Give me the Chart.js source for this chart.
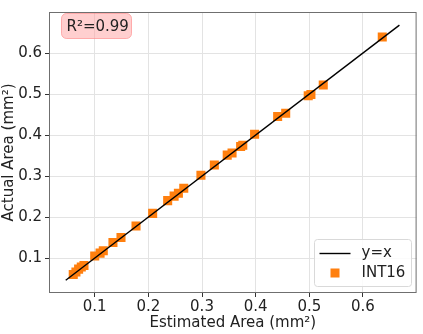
<!DOCTYPE html>
<html>
<head>
<meta charset="utf-8">
<script src="https://cdn.jsdelivr.net/npm/chart.js@4"></script>
<style>
  html, body { margin: 0; padding: 0; background: #fff; }
  #wrap { width: 423px; height: 334px; position: relative; }
</style>
</head>
<body>
<div id="wrap"><canvas id="areaChart"></canvas></div>
<script>
// estimated vs actual area (mm²)
const estimated = [0.060, 0.065, 0.070, 0.075, 0.080, 0.100, 0.110, 0.116, 0.134, 0.149,
                   0.177, 0.208, 0.236, 0.248, 0.256, 0.266, 0.298, 0.323, 0.347, 0.356,
                   0.372, 0.376, 0.398, 0.441, 0.456, 0.498, 0.503, 0.526, 0.636];
const actual    = [0.060, 0.066, 0.073, 0.078, 0.082, 0.105, 0.112, 0.118, 0.138, 0.150,
                   0.178, 0.209, 0.240, 0.251, 0.258, 0.270, 0.302, 0.327, 0.351, 0.356,
                   0.372, 0.375, 0.402, 0.445, 0.453, 0.496, 0.499, 0.522, 0.639];
const refLine = [0.046, 0.668];
const tickValues = [0.1, 0.2, 0.3, 0.4, 0.5, 0.6];
const r2Text = 'R²=0.99';

const font = 'DejaVu Sans';
const orange = '#ff7f0e';

// draws the axes frame, the R² box and the legend
const decorations = {
    id: 'decorations',
    afterDraw(chart) {
        const ctx = chart.ctx;
        const a = chart.chartArea;
        ctx.save();

        ctx.strokeStyle = '#6f6f6f';
        ctx.lineWidth = 1;
        ctx.strokeRect(a.left + 0.5, a.top + 0.5, a.right - a.left - 1, a.bottom - a.top - 1);

        // R² label box
        ctx.font = '15px "' + font + '"';
        const bx = 61.5, by = 13.5, bw = 70, bh = 25;
        ctx.beginPath();
        ctx.roundRect(bx, by, bw, bh, 5);
        ctx.fillStyle = 'rgba(255, 160, 160, 0.5)';
        ctx.fill();
        ctx.strokeStyle = 'rgba(255, 130, 130, 0.6)';
        ctx.stroke();
        ctx.fillStyle = '#222';
        ctx.textBaseline = 'middle';
        ctx.fillText(r2Text, bx + 5, by + bh / 2 + 1);

        // legend
        const lx = 314.5, ly = 239.5, lw = 97, lh = 47;
        ctx.beginPath();
        ctx.roundRect(lx, ly, lw, lh, 3);
        ctx.fillStyle = 'rgba(255,255,255,0.85)';
        ctx.fill();
        ctx.strokeStyle = '#d9d9d9';
        ctx.stroke();

        ctx.strokeStyle = '#000';
        ctx.lineWidth = 1.4;
        ctx.beginPath();
        ctx.moveTo(lx + 5, ly + 14);
        ctx.lineTo(lx + 36, ly + 14);
        ctx.stroke();
        ctx.fillStyle = orange;
        ctx.fillRect(lx + 16, ly + 29, 9, 9);

        ctx.fillStyle = '#222';
        ctx.fillText(chart.data.datasets[0].label, lx + 47, ly + 14);
        ctx.fillText(chart.data.datasets[1].label, lx + 47, ly + 34);
        ctx.restore();
    }
};

const axisCommon = {
    type: 'linear',
    min: 0.0148,
    max: 0.7,
    afterBuildTicks: (scale) => {
        scale.ticks = tickValues.map(v => ({ value: v }));
    },
    grid: {
        color: '#e3e3e3',
        lineWidth: 1,
        drawTicks: true,
        tickLength: 4,
        tickColor: '#333'
    },
    border: { display: false },
    ticks: {
        color: '#222',
        font: { family: font, size: 15 },
        callback: (v) => v.toFixed(1)
    }
};

new Chart(document.getElementById('areaChart'), {
    type: 'scatter',
    data: {
        datasets: [
            {
                type: 'line',
                label: 'y=x',
                data: refLine.map(v => ({ x: v, y: v })),
                borderColor: '#000',
                borderWidth: 1.4,
                pointRadius: 0,
                order: 0
            },
            {
                label: 'INT16',
                data: estimated.map((v, i) => ({ x: v, y: actual[i] })),
                backgroundColor: orange,
                borderColor: orange,
                borderWidth: 0,
                pointStyle: 'rect',
                pointRadius: 6.4,
                order: 1
            }
        ]
    },
    options: {
        responsive: true,
        maintainAspectRatio: false,
        animation: false,
        layout: { padding: { top: 4, right: 4, left: 0, bottom: 0 } },
        plugins: {
            legend: { display: false },
            tooltip: { enabled: false }
        },
        scales: {
            x: {
                ...axisCommon,
                position: 'bottom',
                afterFit: (scale) => { scale.height = 41; },
                ticks: { ...axisCommon.ticks, padding: 1, maxRotation: 0 },
                title: {
                    display: true,
                    text: 'Estimated Area (mm²)',
                    color: '#222',
                    font: { family: font, size: 15 },
                    padding: { top: 0, bottom: 2 }
                }
            },
            y: {
                ...axisCommon,
                position: 'left',
                afterFit: (scale) => { scale.width = 49; },
                ticks: { ...axisCommon.ticks, padding: 3 },
                title: {
                    display: true,
                    text: 'Actual Area (mm²)',
                    color: '#222',
                    font: { family: font, size: 15 },
                    padding: { top: 0, bottom: 2 }
                }
            }
        }
    },
    plugins: [decorations]
});
</script>
</body>
</html>
